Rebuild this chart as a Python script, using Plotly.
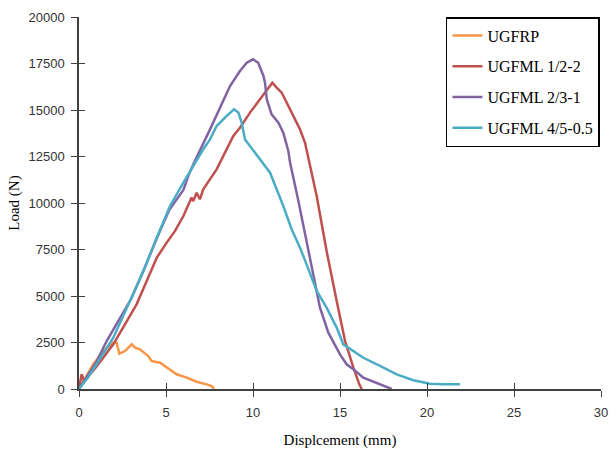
import plotly.graph_objects as go

# ---- data ----
ugfrp_x = [0, 0.4, 0.82, 1.4, 1.97, 2.16, 2.32, 2.64, 3.03, 3.22, 3.5, 3.98, 4.18, 4.66, 5.04, 5.33, 5.61, 6.19, 6.76, 7.34, 7.63, 7.76]
ugfrp_y = [0, 650, 1330, 2040, 2490, 2490, 1900, 2040, 2400, 2220, 2130, 1770, 1500, 1410, 1150, 970, 790, 610, 390, 250, 160, 0]

ml12_x = [0, 0.15, 0.3, 1.0, 1.97, 2.93, 3.31, 3.89, 4.47, 5.04, 5.52, 6.0, 6.47, 6.57, 6.76, 6.95, 7.14, 7.91, 8.87, 9.25, 9.83, 10.4, 10.88, 11.11, 11.36, 11.65, 11.84, 12.32, 12.7, 12.99, 13.28, 13.66, 14.04, 14.23, 14.81, 15.29, 15.77, 16.11, 16.25]
ml12_y = [0, 800, 400, 1200, 2400, 3920, 4550, 5800, 7060, 7870, 8500, 9300, 10290, 10100, 10550, 10200, 10740, 11810, 13600, 14050, 14860, 15575, 16200, 16470, 16200, 15930, 15575, 14680, 13960, 13240, 11990, 10380, 8400, 7420, 4730, 2580, 1150, 250, 0]

ml23_x = [0, 0.5, 1.0, 1.59, 2.36, 3.0, 3.7, 4.47, 5.2, 6.0, 6.3, 6.57, 7.53, 8.68, 9.25, 9.64, 10.0, 10.3, 10.6, 10.69, 10.79, 11.07, 11.46, 11.74, 12.03, 12.13, 12.6, 13.08, 13.47, 13.85, 14.33, 15.0, 15.38, 15.77, 16.34, 17.3, 17.97]
ml23_y = [0, 700, 1450, 2580, 3850, 4850, 6350, 8100, 9650, 10700, 11500, 12080, 13960, 16290, 17100, 17540, 17725, 17540, 16830, 16470, 15575, 14770, 14320, 13780, 12800, 12170, 10150, 7960, 5980, 4370, 3030, 1860, 1330, 1060, 610, 250, 0]

ml45_x = [0, 0.5, 1.01, 1.97, 2.93, 3.7, 4.47, 5.23, 6.0, 6.67, 7.14, 7.53, 7.91, 8.49, 8.91, 9.16, 9.35, 9.54, 9.83, 10.21, 10.69, 10.98, 11.36, 11.74, 12.22, 12.7, 13.08, 13.66, 14.23, 14.81, 15.19, 15.77, 16.34, 17.3, 18.26, 19.21, 20.17, 20.94, 21.9]
ml45_y = [0, 600, 1330, 2760, 4730, 6340, 8130, 9840, 11090, 12170, 12890, 13420, 14140, 14680, 15040, 14860, 14320, 13420, 13060, 12530, 11990, 11630, 10740, 9840, 8590, 7600, 6700, 5270, 4370, 3300, 2400, 2040, 1680, 1240, 790, 470, 285, 250, 250]

series_names = ["UGFRP", "UGFML 1/2-2", "UGFML 2/3-1", "UGFML 4/5-0.5"]
series_colors = ["#F79646", "#C0504D", "#8064A2", "#4BACC6"]

x_ticks = [0, 5, 10, 15, 20, 25, 30]
y_ticks = [0, 2500, 5000, 7500, 10000, 12500, 15000, 17500, 20000]

AX = "#404040"
TICKFONT = dict(family="Liberation Sans", size=13, color="#333333")
SERIF = "Liberation Serif"

fig = go.Figure()
for nm, col, xs, ys in zip(series_names, series_colors,
                           [ugfrp_x, ml12_x, ml23_x, ml45_x],
                           [ugfrp_y, ml12_y, ml23_y, ml45_y]):
    fig.add_trace(go.Scatter(x=xs, y=ys, mode="lines", name=nm, legendgroup=nm,
                             line=dict(color=col, width=2.5)))

# dummy trace to carry the overlay axes (inside half of the crossing ticks)
fig.add_trace(go.Scatter(x=[], y=[], xaxis="x2", yaxis="y2", showlegend=False, hoverinfo="skip"))

fig.update_layout(
    width=610, height=452, autosize=False,
    margin=dict(l=79, r=9, t=17, b=63, autoexpand=False),
    paper_bgcolor="white", plot_bgcolor="white",
    showlegend=True,
    legend=dict(x=0.703, y=1.0, xanchor="left", yanchor="top",
                bordercolor="black", borderwidth=1.5, bgcolor="white",
                font=dict(family=SERIF, size=16, color="black"),
                tracegroupgap=7),
    xaxis=dict(range=[0, 30], tickvals=x_ticks, ticktext=[str(v) for v in x_ticks],
               showline=True, linecolor=AX, linewidth=1.5, ticks="outside",
               ticklen=6, tickwidth=1.3, tickcolor=AX, showgrid=False, zeroline=False,
               tickfont=TICKFONT, ticklabelstandoff=5, automargin=False,
               title=dict(text="Displcement (mm)", font=dict(family=SERIF, size=15, color="black"),
                          standoff=15)),
    yaxis=dict(range=[0, 20000], tickvals=y_ticks, ticktext=[str(v) for v in y_ticks],
               showline=True, linecolor=AX, linewidth=1.5, ticks="outside",
               ticklen=6, tickwidth=1.3, tickcolor=AX, showgrid=False, zeroline=False,
               tickfont=TICKFONT, ticklabelstandoff=4, automargin=False,
               title=dict(text="Load (N)", font=dict(family=SERIF, size=15, color="black"),
                          standoff=5)),
    xaxis2=dict(range=[0, 30], tickvals=x_ticks, overlaying="x", anchor="y", side="bottom",
                ticks="inside", ticklen=6, tickwidth=1.3, tickcolor=AX, automargin=False,
                showticklabels=False, showline=False, showgrid=False, zeroline=False),
    yaxis2=dict(range=[0, 20000], tickvals=y_ticks, overlaying="y", anchor="x", side="left",
                ticks="inside", ticklen=6, tickwidth=1.3, tickcolor=AX, automargin=False,
                showticklabels=False, showline=False, showgrid=False, zeroline=False),
)

fig.write_html("out.html", config={"displayModeBar": False},
               post_script="document.body.style.margin='0';document.body.style.padding='0';")
